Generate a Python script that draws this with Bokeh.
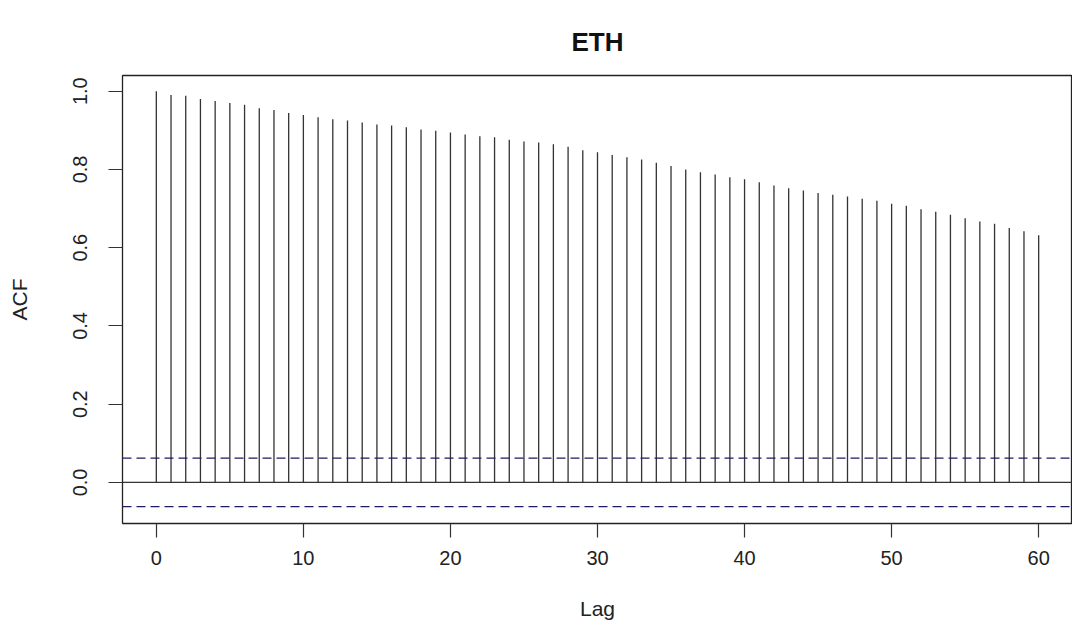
from bokeh.plotting import figure
from bokeh.models import Range1d, FixedTicker, Span
from bokeh.embed import file_html
from bokeh.resources import INLINE

title = "ETH"
x_label = "Lag"
y_label = "ACF"
lags = list(range(0, 61))
acf = [1.000, 0.990, 0.988, 0.980, 0.975, 0.970, 0.965, 0.956, 0.952, 0.944,
       0.939, 0.933, 0.928, 0.925, 0.920, 0.915, 0.912, 0.908, 0.902, 0.899,
       0.894, 0.889, 0.885, 0.882, 0.876, 0.871, 0.869, 0.864, 0.858, 0.849,
       0.844, 0.837, 0.831, 0.825, 0.817, 0.809, 0.800, 0.793, 0.787, 0.780,
       0.775, 0.767, 0.759, 0.752, 0.746, 0.740, 0.735, 0.731, 0.725, 0.720,
       0.712, 0.707, 0.698, 0.692, 0.684, 0.675, 0.667, 0.661, 0.650, 0.642,
       0.632]
conf_limit = 0.062
x_ticks = [0, 10, 20, 30, 40, 50, 60]
y_ticks = [0.0, 0.2, 0.4, 0.6, 0.8, 1.0]

FONT = "Liberation Sans"

p = figure(width=1072, height=628, output_backend="svg", toolbar_location=None,
           x_range=Range1d(-2.3, 62.3), y_range=Range1d(-0.105, 1.04),
           min_border_left=122, min_border_right=0, min_border_top=75,
           min_border_bottom=105, title=title)

p.background_fill_color = "white"
p.border_fill_color = "white"
p.grid.visible = False
p.outline_line_color = "#222222"
p.outline_line_width = 1.3

p.title.align = "center"
p.title.text_font = FONT
p.title.text_font_size = "26px"
p.title.text_font_style = "bold"
p.title.text_color = "#111111"
p.title.standoff = 38

for ax in (p.xaxis[0], p.yaxis[0]):
    ax.axis_line_color = None
    ax.major_tick_in = 0
    ax.major_tick_out = 14
    ax.major_tick_line_color = "#333333"
    ax.major_tick_line_width = 1.2
    ax.minor_tick_line_color = None
    ax.major_label_text_font = FONT
    ax.major_label_text_font_size = "20px"
    ax.major_label_text_color = "#222222"
    ax.axis_label_text_font = FONT
    ax.axis_label_text_font_size = "21px"
    ax.axis_label_text_font_style = "normal"
    ax.axis_label_text_color = "#222222"

p.xaxis.ticker = FixedTicker(ticks=x_ticks)
p.yaxis.ticker = FixedTicker(ticks=y_ticks)
p.yaxis.major_label_overrides = {v: f"{v:.1f}" for v in y_ticks}
p.yaxis.major_label_orientation = "vertical"
p.xaxis.axis_label = x_label
p.yaxis.axis_label = y_label
p.xaxis.major_label_standoff = 13
p.yaxis.major_label_standoff = 21
p.xaxis.axis_label_standoff = 29
p.yaxis.axis_label_standoff = 40

p.segment(x0=lags, y0=[0] * len(lags), x1=lags, y1=acf,
          line_color="#333333", line_width=1.3)

p.add_layout(Span(location=0, dimension="width", line_color="#333333", line_width=1.3))
for c in (conf_limit, -conf_limit):
    p.add_layout(Span(location=c, dimension="width", line_color="#1c1c66",
                      line_width=1.2, line_dash="9 5"))

open("out.html", "w").write(file_html(p, INLINE))
